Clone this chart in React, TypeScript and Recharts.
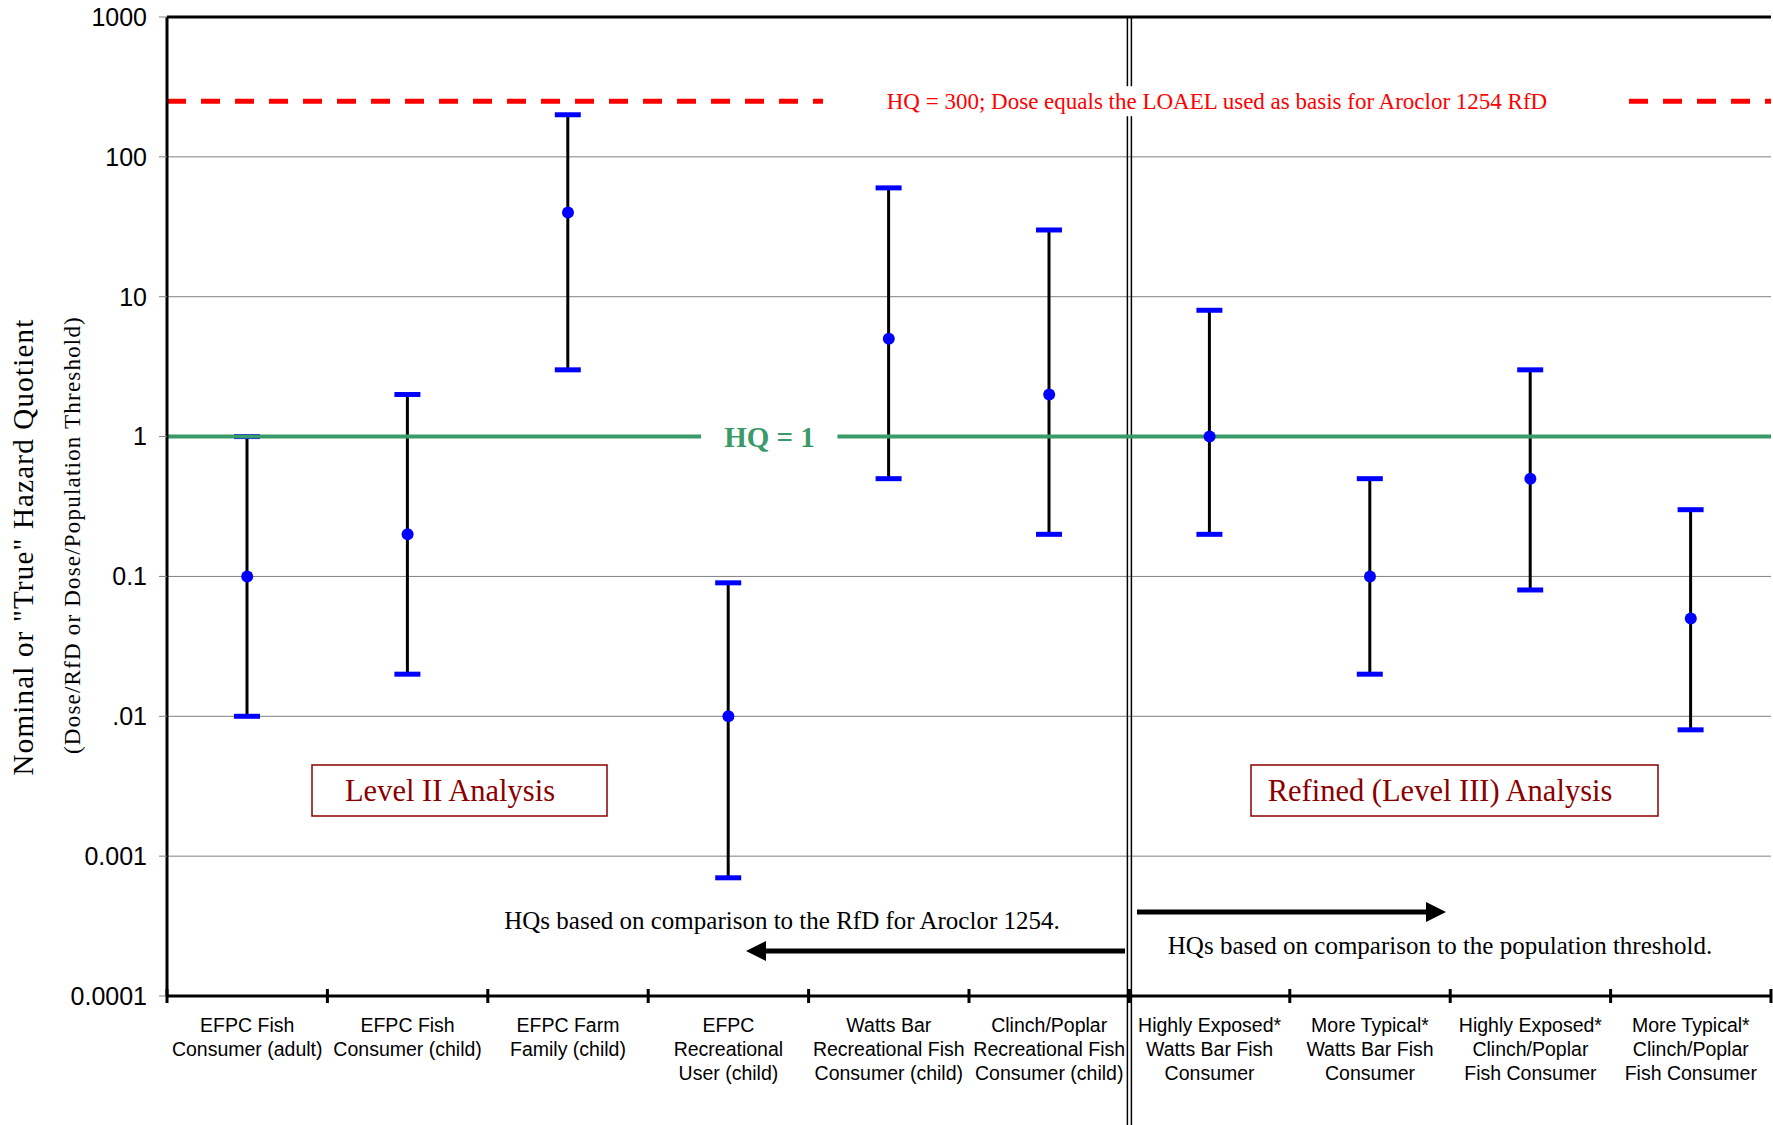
import {
  ComposedChart,
  Bar,
  Line,
  XAxis,
  YAxis,
  CartesianGrid,
  ReferenceLine,
} from "recharts";

const SANS = "'Liberation Sans', Arial, sans-serif";
const SERIF = "'Liberation Serif', 'Times New Roman', serif";

const categories = [
  "EFPC Fish|Consumer (adult)",
  "EFPC Fish|Consumer (child)",
  "EFPC Farm|Family (child)",
  "EFPC|Recreational|User (child)",
  "Watts Bar|Recreational Fish|Consumer (child)",
  "Clinch/Poplar|Recreational Fish|Consumer (child)",
  "Highly Exposed*|Watts Bar Fish|Consumer",
  "More Typical*|Watts Bar Fish|Consumer",
  "Highly Exposed*|Clinch/Poplar|Fish Consumer",
  "More Typical*|Clinch/Poplar|Fish Consumer",
];
const hqCentral = [0.1, 0.2, 40, 0.01, 5, 2, 1, 0.1, 0.5, 0.05];
const hqLow = [0.01, 0.02, 3, 0.0007, 0.5, 0.2, 0.2, 0.02, 0.08, 0.008];
const hqHigh = [1, 2, 200, 0.09, 60, 30, 8, 0.5, 3, 0.3];

const yTicks = [0.0001, 0.001, 0.01, 0.1, 1, 10, 100, 1000];
const yTickLabels = ["0.0001", "0.001", ".01", "0.1", "1", "10", "100", "1000"];

const hqThreshold = 1;
const hqLoael = 250;

const data = categories.map((c, i) => ({
  name: c,
  hq: hqCentral[i],
  range: [hqLow[i], hqHigh[i]],
}));

// whisker: black vertical line with blue caps at both ends
// eslint-disable-next-line @typescript-eslint/no-explicit-any
const Whisker = (props: any) => {
  const { x, y, width, height } = props;
  const cx = x + width / 2;
  const top = Math.min(y, y + height);
  const bottom = Math.max(y, y + height);
  return (
    <g>
      <line x1={cx} x2={cx} y1={top} y2={bottom} stroke="#000" strokeWidth={3} />
      <line x1={x} x2={x + width} y1={top} y2={top} stroke="#0000ff" strokeWidth={5} />
      <line x1={x} x2={x + width} y1={bottom} y2={bottom} stroke="#0000ff" strokeWidth={5} />
    </g>
  );
};

// eslint-disable-next-line @typescript-eslint/no-explicit-any
const CategoryTick = (props: any) => {
  const { x, y, payload, index } = props;
  const lines = String(payload.value).split("|");
  const off = payload.offset ?? 80;
  return (
    <g>
      <line x1={x - off} x2={x - off} y1={y - 7} y2={y + 7} stroke="#000" strokeWidth={3} />
      {index === categories.length - 1 && (
        <line x1={x + off} x2={x + off} y1={y - 7} y2={y + 7} stroke="#000" strokeWidth={3} />
      )}
      <text textAnchor="middle" fontFamily={SANS} fontSize={19.5} fill="#000">
        {lines.map((l, i) => (
          <tspan key={i} x={x} y={y + 36 + i * 24}>
            {l}
          </tspan>
        ))}
      </text>
    </g>
  );
};

// eslint-disable-next-line @typescript-eslint/no-explicit-any
const Divider = (props: any) => {
  const { x1, y1, y2 } = props;
  const top = Math.min(y1, y2);
  return (
    <g>
      <line x1={x1 - 2} x2={x1 - 2} y1={top} y2={1125} stroke="#000" strokeWidth={1.5} />
      <line x1={x1 + 2} x2={x1 + 2} y1={top} y2={1125} stroke="#000" strokeWidth={1.5} />
    </g>
  );
};

// eslint-disable-next-line @typescript-eslint/no-explicit-any
const GreenLabel = (props: any) => {
  const { x, y, width } = props.viewBox;
  return (
    <g>
      <rect x={x + width * 0.333} y={y - 6} width={width * 0.085} height={12} fill="#fff" />
      <text x={x + width * 0.3756} y={y + 10} textAnchor="middle" fontFamily={SERIF} fontSize={29} fontWeight="bold" fill="#3A9A6A">
        HQ = 1
      </text>
    </g>
  );
};

// eslint-disable-next-line @typescript-eslint/no-explicit-any
const RedLabel = (props: any) => {
  const { x, y, width } = props.viewBox;
  return (
    <g>
      <rect x={x + width * 0.409} y={y - 15} width={width * 0.494} height={30} fill="#fff" />
      <text x={x + width * 0.6546} y={y + 8} textAnchor="middle" fontFamily={SERIF} fontSize={23} fill="#ff0000">
        HQ = 300; Dose equals the LOAEL used as basis for Aroclor 1254 RfD
      </text>
    </g>
  );
};

export default function App() {
  return (
    <div style={{ position: "absolute", left: 0, top: 0, width: 1773, height: 1125, background: "#fff" }}>
      <ComposedChart
        width={1773}
        height={1125}
        data={data}
        margin={{ top: 17, right: 2, left: 67, bottom: 29 }}
      >
        <CartesianGrid horizontal vertical={false} stroke="#808080" strokeWidth={1} />
        <XAxis
          dataKey="name"
          type="category"
          height={100}
          tick={<CategoryTick />}
          tickLine={false}
          tickSize={0}
          tickMargin={0}
          interval={0}
          axisLine={{ stroke: "#000", strokeWidth: 3 }}
        />
        <YAxis
          scale="log"
          domain={[0.0001, 1000]}
          ticks={yTicks}
          allowDataOverflow
          width={100}
          tickSize={8}
          tickMargin={12}
          tickLine={{ stroke: "#808080" }}
          axisLine={{ stroke: "#000", strokeWidth: 3 }}
          tick={{ fontSize: 25, fill: "#000", fontFamily: SANS }}
          tickFormatter={(v: number) => yTickLabels[yTicks.indexOf(v)] ?? String(v)}
        />
        <ReferenceLine y={1000} stroke="#000" strokeWidth={3} />
        <ReferenceLine x={categories[9]} position="end" stroke="#000" strokeWidth={1} />
        <ReferenceLine x={categories[5]} position="end" shape={<Divider />} />
        <ReferenceLine
          y={hqLoael}
          stroke="#ff0000"
          strokeWidth={5}
          strokeDasharray="19 15"
          label={(p: any) => <RedLabel {...p} />}
        />
        <Bar dataKey="range" barSize={26} shape={<Whisker />} isAnimationActive={false} />
        <ReferenceLine
          y={hqThreshold}
          stroke="#3A9A6A"
          strokeWidth={4}
          label={(p: any) => <GreenLabel {...p} />}
        />
        <Line
          dataKey="hq"
          stroke="none"
          dot={{ r: 6, fill: "#0000ff", stroke: "none" }}
          activeDot={false}
          isAnimationActive={false}
        />
      </ComposedChart>

      {/* annotations */}
      <svg width={1773} height={1125} style={{ position: "absolute", left: 0, top: 0, pointerEvents: "none" }}>
        <text transform="translate(33,547) rotate(-90)" textAnchor="middle" fontFamily={SERIF} fontSize={29} letterSpacing={1.2} fill="#000">
          Nominal or "True" Hazard Quotient
        </text>
        <text transform="translate(80,535) rotate(-90)" textAnchor="middle" fontFamily={SERIF} fontSize={23} letterSpacing={1.2} fill="#000">
          (Dose/RfD or Dose/Population Threshold)
        </text>

        <rect x={312} y={765} width={295} height={51} fill="#fff" stroke="#8B0000" strokeWidth={1.5} />
        <text x={450} y={801} textAnchor="middle" fontFamily={SERIF} fontSize={30.5} fill="#8B0000">
          Level II Analysis
        </text>
        <rect x={1251} y={765} width={407} height={51} fill="#fff" stroke="#8B0000" strokeWidth={1.5} />
        <text x={1440} y={801} textAnchor="middle" fontFamily={SERIF} fontSize={30.5} fill="#8B0000">
          Refined (Level III) Analysis
        </text>

        <text x={782} y={929} textAnchor="middle" fontFamily={SERIF} fontSize={25} fill="#000">
          HQs based on comparison to the RfD for Aroclor 1254.
        </text>
        <line x1={1125} x2={762} y1={951} y2={951} stroke="#000" strokeWidth={5} />
        <polygon points="746,951 766,941 766,961" fill="#000" />

        <line x1={1137} x2={1430} y1={912} y2={912} stroke="#000" strokeWidth={5} />
        <polygon points="1446,912 1426,902 1426,922" fill="#000" />
        <text x={1440} y={954} textAnchor="middle" fontFamily={SERIF} fontSize={25} fill="#000">
          HQs based on comparison to the population threshold.
        </text>
      </svg>
    </div>
  );
}
